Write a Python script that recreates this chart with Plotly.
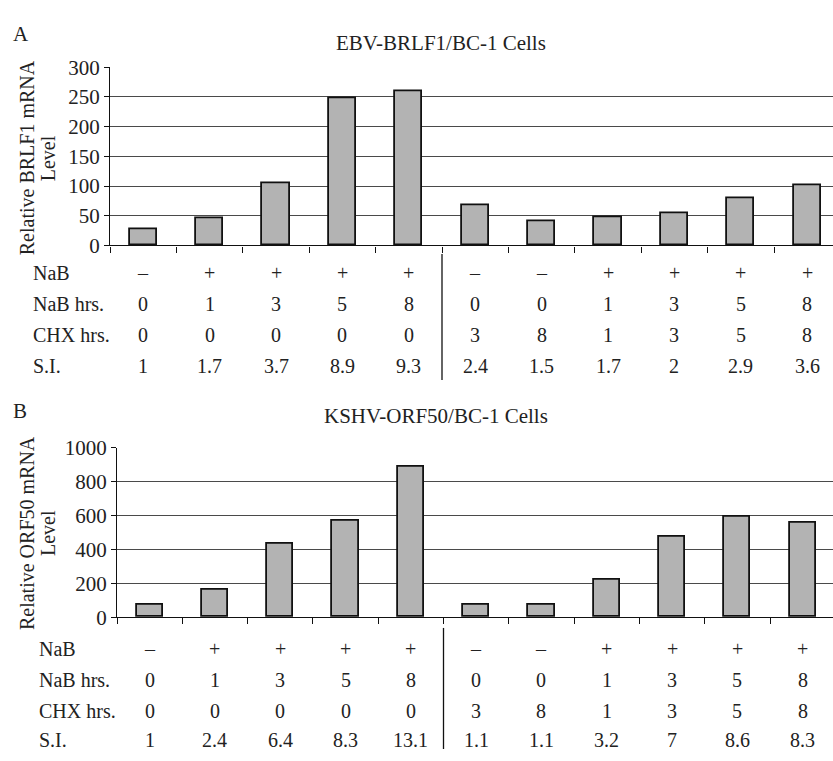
import plotly.graph_objects as go

# ---- data ----
conditions = list(range(11))
brlf1_level = [27, 46, 105, 248, 260, 68, 40, 47, 55, 80, 102]
orf50_level = [75, 165, 435, 568, 886, 72, 72, 220, 477, 590, 557]

nab_row = ["–", "+", "+", "+", "+", "–", "–", "+", "+", "+", "+"]
nab_hrs_row = ["0", "1", "3", "5", "8", "0", "0", "1", "3", "5", "8"]
chx_hrs_row = ["0", "0", "0", "0", "0", "3", "8", "1", "3", "5", "8"]
si_A = ["1", "1.7", "3.7", "8.9", "9.3", "2.4", "1.5", "1.7", "2", "2.9", "3.6"]
si_B = ["1", "2.4", "6.4", "8.3", "13.1", "1.1", "1.1", "3.2", "7", "8.6", "8.3"]
row_labels = ["NaB", "NaB hrs.", "CHX hrs.", "S.I."]
group1_size = 5

FW, FH = 833, 761
FONT = "Liberation Serif, Times New Roman, serif"
INK = "#222"


def px_x(px):
    return px / FW


def px_y(px):
    return 1 - px / FH


fig = go.Figure()
fig.add_trace(go.Bar(x=conditions, y=brlf1_level, xaxis="x", yaxis="y", width=0.41,
                     marker=dict(color="#b3b3b3", line=dict(color="#111", width=1.8))))
fig.add_trace(go.Bar(x=conditions, y=orf50_level, xaxis="x2", yaxis="y2", width=0.40,
                     marker=dict(color="#b3b3b3", line=dict(color="#111", width=1.8))))

bounds = [i - 0.5 for i in range(len(conditions) + 1)]
common_x = dict(showgrid=False, zeroline=False, showline=True, linecolor="#111", linewidth=1.3,
                tickmode="array", tickvals=bounds, ticktext=[""] * len(bounds),
                ticks="outside", ticklen=6, tickcolor="#111", showticklabels=False)
common_y = dict(showgrid=True, gridcolor="#4a4a4a", gridwidth=1, zeroline=False, showline=True,
                linecolor="#111", linewidth=1.3, ticks="outside", ticklen=5, tickcolor="#111",
                tickfont=dict(family=FONT, size=21, color=INK))

fig.update_layout(
    width=FW, height=FH, margin=dict(l=0, r=0, t=0, b=0),
    paper_bgcolor="white", plot_bgcolor="white", showlegend=False, bargap=0,
    xaxis=dict(domain=[px_x(110), 1], range=[-0.5, -0.5 + 723 / 66.4], anchor="y", **common_x),
    yaxis=dict(domain=[px_y(241), px_y(57)], range=[0, 300], dtick=50, anchor="x", **common_y),
    xaxis2=dict(domain=[px_x(117), 1], range=[-0.5, -0.5 + 716 / 65.3], anchor="y2", **common_x),
    yaxis2=dict(domain=[px_y(625), px_y(450)], range=[0, 1000], dtick=200, anchor="x2", **common_y),
)

ann = []


def note(text, x, y, xanchor="center", size=20, angle=0, xref="paper"):
    ann.append(dict(text=text, x=x, y=y, xref=xref, yref="paper", showarrow=False,
                    xanchor=xanchor, yanchor="middle", textangle=angle,
                    font=dict(family=FONT, size=size, color=INK)))


# panel letters and titles
note("A", px_x(11), px_y(23), xanchor="left", size=21)
note("B", px_x(11), px_y(412), xanchor="left", size=21)
note("EBV-BRLF1/BC-1 Cells", px_x(441), px_y(32), size=21)
note("KSHV-ORF50/BC-1 Cells", px_x(436), px_y(417), size=21)
# rotated axis titles (two lines each)
note("Relative BRLF1 mRNA", px_x(27), px_y(151), angle=-90)
note("Level", px_x(48), px_y(151), angle=-90)
note("Relative ORF50 mRNA", px_x(27), px_y(538), angle=-90)
note("Level", px_x(48), px_y(538), angle=-90)

rows_A = [nab_row, nab_hrs_row, chx_hrs_row, si_A]
rows_B = [nab_row, nab_hrs_row, chx_hrs_row, si_B]
ys_A = [270, 302, 334, 366]
ys_B = [658, 690, 722, 752]
for xref, rows, ys, lx in [("x", rows_A, ys_A, 31), ("x2", rows_B, ys_B, 37)]:
    for lab, row, ypx in zip(row_labels, rows, ys):
        note(lab, px_x(lx), px_y(ypx), xanchor="left")
        for c, v in zip(conditions, row):
            note(v, c, px_y(ypx), xref=xref)
fig.update_layout(annotations=ann)

div = group1_size - 0.5
fig.add_shape(type="line", xref="x", yref="paper", x0=div, x1=div, y0=px_y(250), y1=px_y(380),
              line=dict(color="#111", width=1.3))
fig.add_shape(type="line", xref="x2", yref="paper", x0=div, x1=div, y0=px_y(636), y1=0,
              line=dict(color="#111", width=1.3))

# remove the default 8px page margin so the figure sits at the window origin
fig.write_html("out.html", config={"displayModeBar": False},
               post_script="document.body.style.margin='0px';document.body.style.overflow='hidden';")
